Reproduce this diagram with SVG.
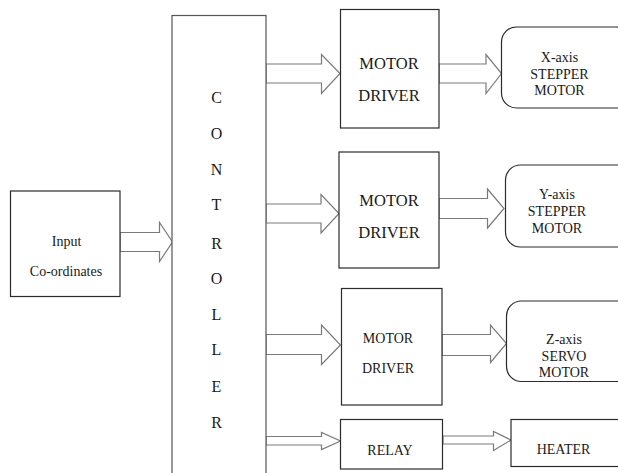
<svg xmlns="http://www.w3.org/2000/svg" width="618" height="473" viewBox="0 0 618 473">
  <style>
    .box { fill: #ffffff; stroke: #2b2b2b; stroke-width: 1.2; }
    .arrow { fill: #ffffff; stroke: #7a7a7a; stroke-width: 1.2; stroke-linejoin: miter; }
    .lbl { fill: #1a1a1a; text-anchor: middle; font-family: "Liberation Serif", Tinos, "Times New Roman", Times, "DejaVu Serif", "Noto Serif", FreeSerif, serif; }
    .t14 { font-size: 14px; }
    .t16 { font-size: 16.5px; }
    .ctl { font-size: 16px; }
  </style>
  <rect width="618" height="473" fill="#ffffff"/>

  <!-- block arrows -->
  <g id="connectors">
    <polygon class="arrow" points="120,232.5 159.5,232.5 159.5,222.5 172.5,242 159.5,261.5 159.5,251.5 120,251.5"/>
    <polygon class="arrow" points="266,64 321.5,64 321.5,54.5 340,73.5 321.5,93.5 321.5,83 266,83"/>
    <polygon class="arrow" points="439,64 486,64 486,54.5 501.5,73.5 486,93.5 486,83 439,83"/>
    <polygon class="arrow" points="266,204 321,204 321,194.5 339,213.5 321,233 321,223 266,223"/>
    <polygon class="arrow" points="439,198.5 487.5,198.5 487.5,189 504,208.5 487.5,228 487.5,218.5 439,218.5"/>
    <polygon class="arrow" points="266,334.5 321.5,334.5 321.5,325 340.5,345 321.5,364.5 321.5,354.5 266,354.5"/>
    <polygon class="arrow" points="442,334.5 490.5,334.5 490.5,325 506.5,343.5 490.5,362.5 490.5,355.5 442,355.5"/>
    <polygon class="arrow" points="266,436.5 321.5,436.5 321.5,432.5 340.5,441 321.5,449.5 321.5,445 266,445"/>
    <polygon class="arrow" points="443,436 493.5,436 493.5,431.5 511,440 493.5,450.5 493.5,444 443,444"/>
  </g>

  <g id="input">
    <rect class="box" x="10.5" y="191" width="109.5" height="105.5"/>
    <text class="lbl t14" x="66.5" y="246">Input</text>
    <text class="lbl t14" x="66" y="276">Co-ordinates</text>
  </g>

  <g id="controller">
    <rect class="box" x="172" y="15.5" width="94" height="470" style="stroke:#555555"/>
    <text class="lbl ctl" x="216.5" y="102.5">C</text>
    <text class="lbl ctl" x="216.5" y="139">O</text>
    <text class="lbl ctl" x="216.5" y="175">N</text>
    <text class="lbl ctl" x="216.5" y="210">T</text>
    <text class="lbl ctl" x="216.5" y="248.5">R</text>
    <text class="lbl ctl" x="216.5" y="283.5">O</text>
    <text class="lbl ctl" x="216.5" y="320">L</text>
    <text class="lbl ctl" x="216.5" y="355">L</text>
    <text class="lbl ctl" x="216.5" y="391.5">E</text>
    <text class="lbl ctl" x="216.5" y="427.5">R</text>
  </g>

  <g id="driver-x">
    <rect class="box" x="340.5" y="9.5" width="98.5" height="118.5"/>
    <text class="lbl t16" x="389" y="69">MOTOR</text>
    <text class="lbl t16" x="389" y="101">DRIVER</text>
  </g>

  <g id="driver-y">
    <rect class="box" x="339" y="152" width="100" height="116"/>
    <text class="lbl t16" x="389" y="206">MOTOR</text>
    <text class="lbl t16" x="389" y="237.5">DRIVER</text>
  </g>

  <g id="driver-z">
    <rect class="box" x="341.5" y="288.5" width="100.5" height="116.5"/>
    <text class="lbl t14" x="388" y="342.5">MOTOR</text>
    <text class="lbl t14" x="388" y="373">DRIVER</text>
  </g>

  <g id="relay">
    <rect class="box" x="340.5" y="419.5" width="102" height="49.5"/>
    <text class="lbl t14" x="390" y="454.5">RELAY</text>
  </g>

  <g id="x-motor">
    <rect class="box" x="501.5" y="27" width="130" height="81" rx="15" ry="15"/>
    <text class="lbl t14" x="559.5" y="61.5">X-axis</text>
    <text class="lbl t14" x="559.5" y="78.5">STEPPER</text>
    <text class="lbl t14" x="559.5" y="94.5">MOTOR</text>
  </g>

  <g id="y-motor">
    <rect class="box" x="505.5" y="165" width="130" height="82" rx="15" ry="15"/>
    <text class="lbl t14" x="557" y="198.5">Y-axis</text>
    <text class="lbl t14" x="557" y="216">STEPPER</text>
    <text class="lbl t14" x="557" y="233">MOTOR</text>
  </g>

  <g id="z-motor">
    <rect class="box" x="506.5" y="301" width="130" height="80.5" rx="15" ry="15"/>
    <text class="lbl t14" x="564" y="344">Z-axis</text>
    <text class="lbl t14" x="564" y="360.5">SERVO</text>
    <text class="lbl t14" x="564" y="376.5">MOTOR</text>
  </g>

  <g id="heater">
    <rect class="box" x="511" y="419.5" width="120" height="47"/>
    <text class="lbl t14" x="563.5" y="453.5">HEATER</text>
  </g>
</svg>
